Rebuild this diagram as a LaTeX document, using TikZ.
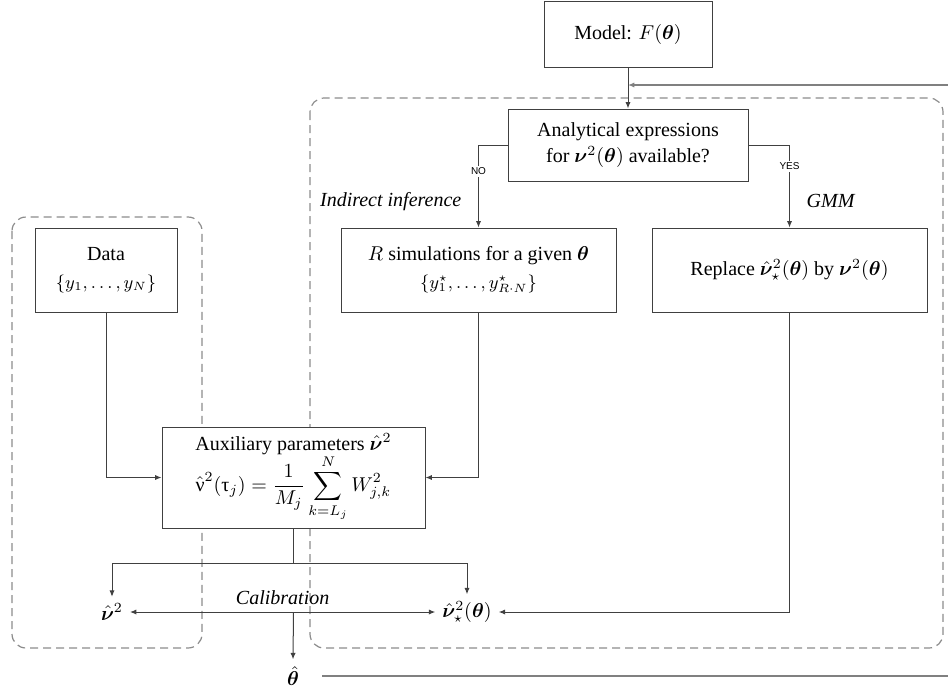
\documentclass[tikz,border=0pt]{standalone}
\usepackage{amsmath}
\usepackage{bm}
\usepackage{fontspec}
\setmainfont{Liberation Serif}
\newfontfamily\labelfont{Liberation Sans}
\usetikzlibrary{positioning,arrows.meta}

\begin{document}
\begin{tikzpicture}[
    x=0.5pt,
    y=-0.5pt,
    font=\rmfamily,
    >={Latex[length=3.2pt,width=2.6pt]},
    block/.style={draw=black!75,line width=0.5pt,fill=white,text=black,align=center,inner sep=2pt},
    flow/.style={->,black!75,line width=0.5pt},
    wire/.style={black!75,line width=0.5pt},
    zone/.style={draw=black!45,dash pattern=on 4pt off 2.5pt,line width=0.6pt,rounded corners=7pt},
    loopback/.style={->,black!50,line width=0.8pt},
    choice/.style={font=\labelfont\fontsize{5}{6}\selectfont,text=black,fill=white,inner sep=1pt},
    note/.style={font=\rmfamily\itshape,text=black}
  ]
  \useasboundingbox (0,0) rectangle (948,693);

  % dashed zones
  \draw[zone] (310,98) rectangle (943,648);
  \draw[zone] (12,217) rectangle (202,648);

  \node[block,minimum width=84pt,minimum height=33pt] (model) at (628,34) {Model: $F(\bm{\theta})$};
  \node[block,minimum width=120pt,minimum height=36pt] (expr) at (628,145) {Analytical expressions\\[1pt]for $\bm{\nu}^2(\bm{\theta})$ available?};

  \node[block,minimum width=71pt,minimum height=42pt] (data) at (106,270) {Data\\[2pt]{\small$\{y_1,\ldots,y_N\}$}};
  \node[block,minimum width=137.5pt,minimum height=42pt] (sim) at (478.5,270) {$R$ simulations for a given $\bm{\theta}$\\[2pt]{\small$\{y^\star_1,\ldots,y^\star_{R\cdot N}\}$}};
  \node[block,minimum width=137.5pt,minimum height=42pt] (repl) at (789.5,270) {Replace $\hat{\bm{\nu}}^2_\star(\bm{\theta})$ by $\bm{\nu}^2(\bm{\theta})$};

  \node[block,minimum width=131.5pt,minimum height=50.5pt] (aux) at (293.5,477.5) {Auxiliary parameters $\hat{\bm{\nu}}^2$\\[-1pt]$\displaystyle\hat{\text{ν}}^2(\text{τ}_j)=\frac{1}{M_j}\sum_{k=L_j}^{N}W_{j,k}^2$};

  \node (nuobs) at (112,612) {$\hat{\bm{\nu}}^2$};
  \node (nusim) at (467,612) {$\hat{\bm{\nu}}^2_\star(\bm{\theta})$};
  \node (est) at (293,676) {$\hat{\bm{\theta}}$};

  \coordinate (fb) at (model.south |- 0,85);
  \coordinate (corner) at (975,85);
  \coordinate (split) at (aux.south |- 0,563);
  \coordinate (cal) at (aux.south |- nuobs.east);

  \draw[flow] (model) -- (expr);
  \draw[flow] (expr.west) -| node[choice,pos=0.66]{NO} node[note,pos=0.84,left=5pt]{Indirect inference} (sim.north);
  \draw[flow] (expr.east) -| node[choice,pos=0.63]{YES} node[note,pos=0.84,right=5pt]{GMM} (repl.north);

  \draw[flow] (data.south) |- (aux.west);
  \draw[flow] (sim.south) |- (aux.east);
  \draw[wire] (aux.south) -- (split);
  \draw[flow] (split) -| (nuobs.north);
  \draw[flow] (split) -| (nusim.north);
  \draw[flow] (repl.south) |- (nusim.east);

  \draw[flow,<->] (nuobs.east) -- node[note,above]{Calibration} (nusim.west);
  \draw[flow] (cal) -- (est.north);

  \draw[loopback] ([xshift=8pt]est.east) -| (corner) -- (fb);
\end{tikzpicture}
\end{document}
